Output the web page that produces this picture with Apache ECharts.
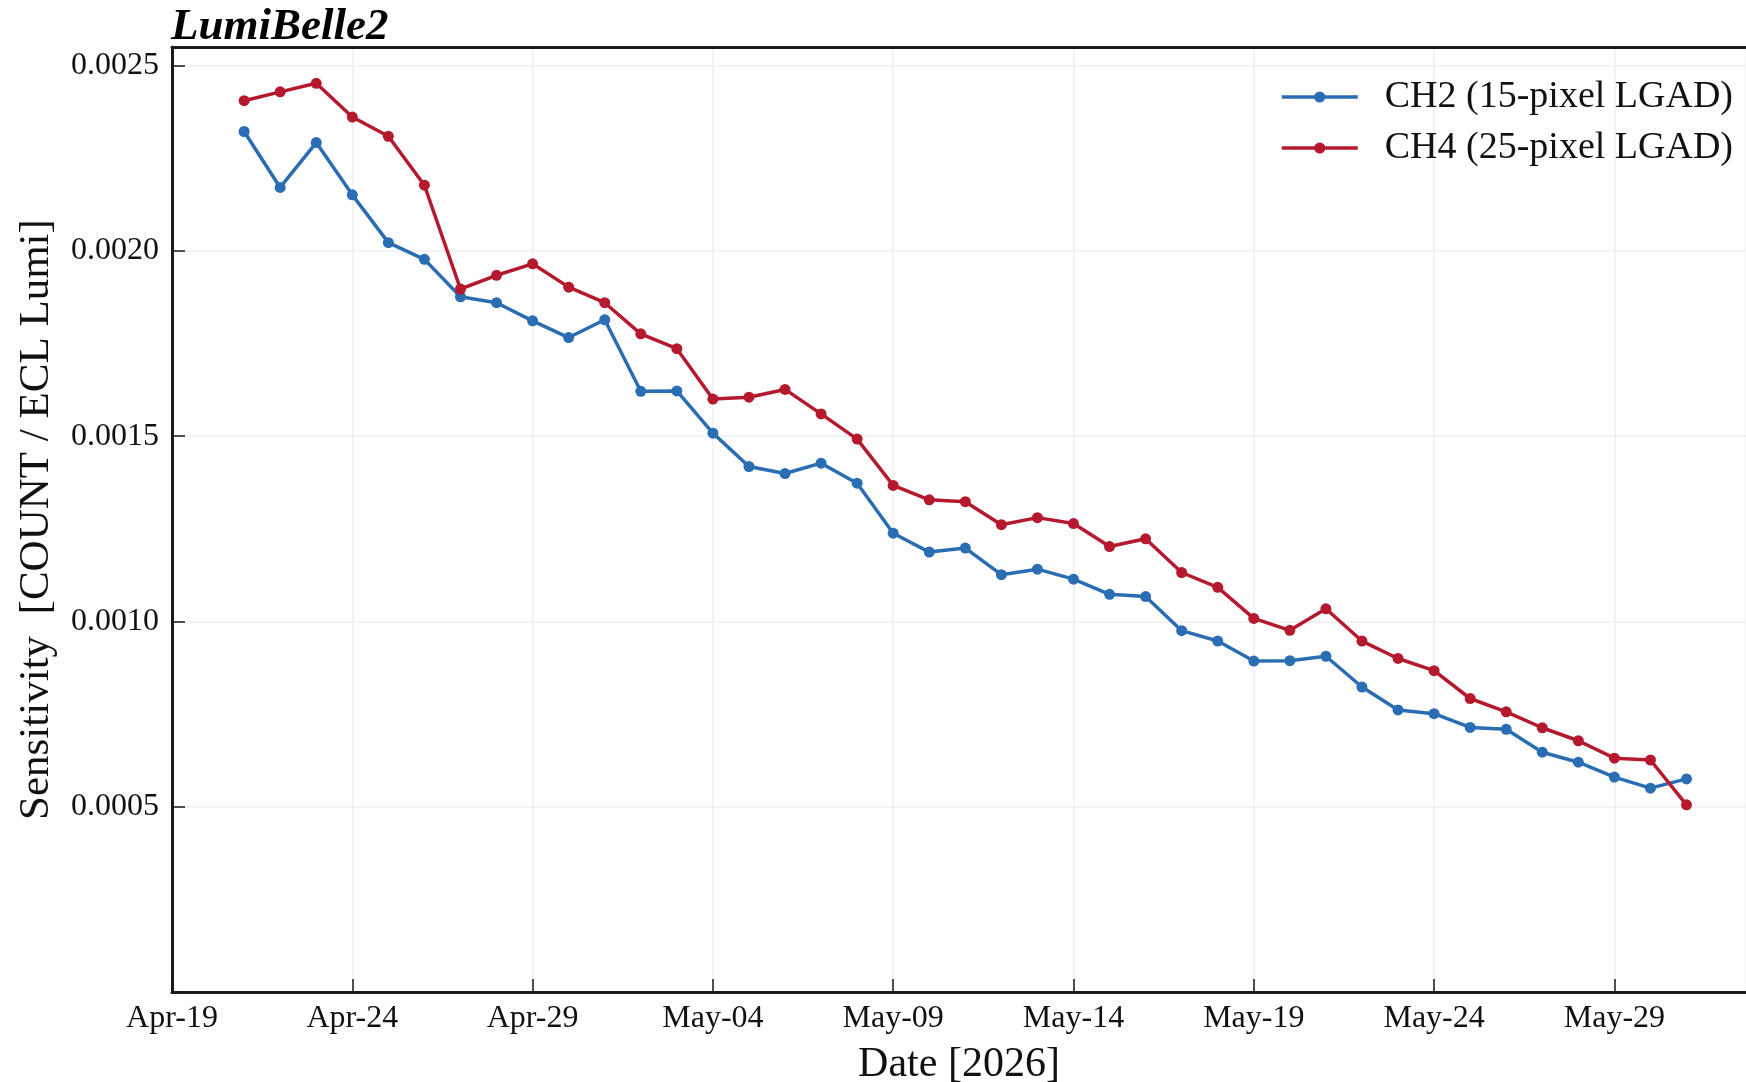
<!DOCTYPE html>
<html>
<head>
<meta charset="utf-8">
<script src="https://cdn.jsdelivr.net/npm/echarts@6/dist/echarts.min.js"></script>
<style>
html,body{margin:0;padding:0;background:#fff;}
#chart{width:1746px;height:1082px;}
</style>
</head>
<body>
<div id="chart"></div>
<script>
const START = '2026-04-19';
const dates = [
  '2026-04-21','2026-04-22','2026-04-23','2026-04-24','2026-04-25','2026-04-26','2026-04-27','2026-04-28','2026-04-29','2026-04-30',
  '2026-05-01','2026-05-02','2026-05-03','2026-05-04','2026-05-05','2026-05-06','2026-05-07','2026-05-08','2026-05-09','2026-05-10',
  '2026-05-11','2026-05-12','2026-05-13','2026-05-14','2026-05-15','2026-05-16','2026-05-17','2026-05-18','2026-05-19','2026-05-20',
  '2026-05-21','2026-05-22','2026-05-23','2026-05-24','2026-05-25','2026-05-26','2026-05-27','2026-05-28','2026-05-29','2026-05-30',
  '2026-05-31'
];
const ch2 = [
  0.002322,0.002171,0.002292,0.002151,0.002022,0.001977,0.001876,0.001860,0.001811,0.001766,
  0.001814,0.001621,0.001622,0.001508,0.001418,0.001399,0.001427,0.001373,0.001238,0.001187,
  0.001198,0.001126,0.001141,0.001114,0.001073,0.001067,0.000975,0.000947,0.000893,0.000894,
  0.000906,0.000823,0.000761,0.000751,0.000714,0.000709,0.000647,0.000620,0.000580,0.000550,
  0.000575
];
const ch4 = [
  0.002405,0.002429,0.002452,0.002361,0.002309,0.002177,0.001897,0.001934,0.001965,0.001902,
  0.001860,0.001776,0.001736,0.001600,0.001605,0.001626,0.001560,0.001492,0.001367,0.001328,
  0.001323,0.001261,0.001280,0.001264,0.001202,0.001223,0.001132,0.001092,0.001008,0.000976,
  0.001034,0.000947,0.000900,0.000867,0.000792,0.000756,0.000713,0.000678,0.000631,0.000626,
  0.000505
];
const xTickLabels = ['Apr-19','Apr-24','Apr-29','May-04','May-09','May-14','May-19','May-24','May-29'];
const seriesNames = ['CH2 (15-pixel LGAD)','CH4 (25-pixel LGAD)'];
const colors = ['#2a6db2','#b5192d'];

const DAY = 86400000;
const t0 = Date.parse(START + 'T00:00:00Z');
const dayOf = d => (Date.parse(d + 'T00:00:00Z') - t0) / DAY;
const s1 = dates.map((d, i) => [dayOf(d), ch2[i]]);
const s2 = dates.map((d, i) => [dayOf(d), ch4[i]]);

const FONT = '"Liberation Serif","Times New Roman",serif';
const chart = echarts.init(document.getElementById('chart'), null, {renderer: 'canvas'});
const axisColor = '#1a1a1a';

chart.setOption({
  animation: false,
  backgroundColor: '#ffffff',
  textStyle: {fontFamily: FONT},
  title: {
    text: 'LumiBelle2',
    left: 166, top: 0,
    textStyle: {fontFamily: FONT, fontSize: 45, fontWeight: 'bold', fontStyle: 'italic', color: '#000'}
  },
  legend: {
    left: 1275, top: 73,
    orient: 'vertical',
    itemWidth: 76, itemHeight: 14, itemGap: 13,
    data: seriesNames,
    lineStyle: {width: 3.5},
    textStyle: {fontFamily: FONT, fontSize: 38, color: '#111', padding: [0, 0, 0, 22]}
  },
  grid: {left: 172, right: 0, top: 47, bottom: 90, containLabel: false, outerBoundsMode: 'none'},
  xAxis: [{
    type: 'value',
    min: 0, max: 43.65, interval: 5,
    name: 'Date [2026]',
    nameLocation: 'middle', nameGap: 52,
    nameTextStyle: {fontFamily: FONT, fontSize: 42, color: '#111'},
    axisLine: {show: true, onZero: false, lineStyle: {color: axisColor, width: 3}},
    axisTick: {show: true, inside: true, length: 13, lineStyle: {color: axisColor, width: 1.5}},
    axisLabel: {
      fontFamily: FONT, fontSize: 32, color: '#111', margin: 11,
      showMaxLabel: false,
      formatter: v => { const k = Math.round(v / 5); return (Math.abs(v - k * 5) < 1e-6 && xTickLabels[k]) ? xTickLabels[k] : ''; }
    },
    splitLine: {show: true, lineStyle: {color: '#efefef', width: 1.5}}
  }, {
    type: 'value', position: 'top',
    min: 0, max: 43.65,
    axisLine: {show: true, onZero: false, lineStyle: {color: axisColor, width: 3}},
    axisTick: {show: false}, axisLabel: {show: false}, splitLine: {show: false}
  }],
  yAxis: {
    type: 'value',
    min: 0, max: 0.00255, interval: 0.0005,
    name: 'Sensitivity  [COUNT / ECL Lumi]',
    nameLocation: 'middle', nameRotate: 90, nameGap: 114,
    nameTextStyle: {fontFamily: FONT, fontSize: 43, color: '#111'},
    axisLine: {show: true, onZero: false, lineStyle: {color: axisColor, width: 3}},
    axisTick: {show: true, inside: true, length: 13, lineStyle: {color: axisColor, width: 1.5}},
    axisLabel: {
      fontFamily: FONT, fontSize: 32, color: '#111', margin: 13,
      showMaxLabel: false,
      formatter: v => (v < 1e-9 ? '' : v.toFixed(4))
    },
    splitLine: {show: true, lineStyle: {color: '#efefef', width: 1.5}}
  },
  series: [
    {
      name: seriesNames[0], type: 'line', data: s1, xAxisIndex: 0,
      symbol: 'circle', symbolSize: 11, showSymbol: true,
      itemStyle: {color: colors[0]},
      lineStyle: {color: colors[0], width: 3.5}
    },
    {
      name: seriesNames[1], type: 'line', data: s2, xAxisIndex: 0,
      symbol: 'circle', symbolSize: 11, showSymbol: true,
      itemStyle: {color: colors[1]},
      lineStyle: {color: colors[1], width: 3.5}
    }
  ]
});
</script>
</body>
</html>
